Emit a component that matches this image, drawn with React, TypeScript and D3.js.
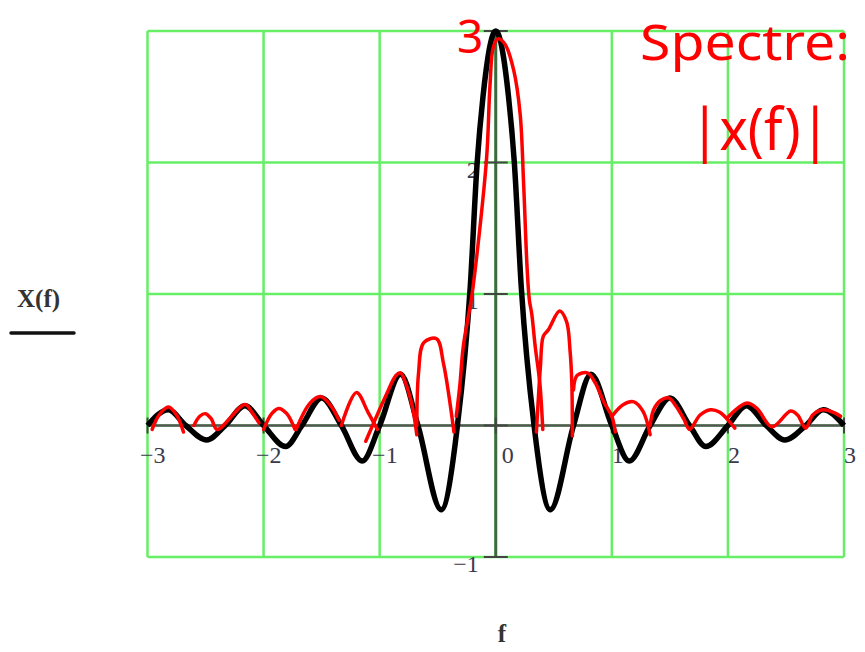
import React from "react";
import * as d3 from "d3";

// black curve X(f) (zeros + extrema + main lobe)
const blackF = [
  -3, -2.82, -2.67, -2.49, -2.33, -2.16, -2.0, -1.81, -1.67, -1.5, -1.33, -1.15, -1.0, -0.82, -0.67, -0.47,
  -0.33, -0.22, -0.16, -0.11, 0, 0.11, 0.16, 0.22, 0.33, 0.47, 0.67, 0.82, 1.0, 1.15, 1.33, 1.5, 1.67,
  1.81, 2.0, 2.16, 2.33, 2.49, 2.67, 2.82, 3,
];
const blackX = [
  0, 0.12, 0, -0.11, 0, 0.15, 0, -0.16, 0, 0.21, 0, -0.27, 0, 0.39, 0, -0.64,
  0, 1.05, 2.0, 2.5, 3.0, 2.5, 2.0, 1.05, 0, -0.64, 0, 0.39, 0, -0.27, 0, 0.21, 0,
  -0.16, 0, 0.15, 0, -0.11, 0, 0.12, 0,
];

// red hand-drawn strokes |X(f)|, [f, value]
const red1 = [[-2.96, -0.03], [-2.9, 0.08], [-2.82, 0.14], [-2.75, 0.08], [-2.69, -0.05]];
const red2 = [[-2.6, 0.0], [-2.55, 0.07], [-2.5, 0.09], [-2.45, 0.05], [-2.4, -0.03], [-2.16, 0.16], [-2.1, 0.1], [-2.04, 0.02]];
const red3 = [[-2.0, -0.03], [-1.93, 0.09], [-1.87, 0.13], [-1.8, 0.09], [-1.73, -0.03]];
const red4 = [[-1.72, -0.03], [-1.6, 0.17], [-1.51, 0.22], [-1.42, 0.15], [-1.35, 0.04]];
const red5 = [[-1.33, 0.0], [-1.2, 0.25], [-1.1, 0.1], [-1.02, -0.03]];
const red6 = [[-1.12, -0.12], [-0.95, 0.22], [-0.86, 0.38], [-0.82, 0.4], [-0.78, 0.33], [-0.72, 0.15], [-0.68, -0.07]];
const red7 = [[-0.68, 0.0], [-0.665, 0.4], [-0.62, 0.63], [-0.51, 0.66], [-0.45, 0.47], [-0.36, -0.05]];
const red8 = [
  [-0.34, 0.07], [-0.31, 0.3], [-0.28, 0.6], [-0.23, 0.86], [-0.205, 0.99], [-0.08, 2.02], [-0.05, 2.58],
  [-0.02, 2.88], [0.02, 2.94], [0.08, 2.9], [0.155, 2.7], [0.21, 2.37], [0.24, 1.84], [0.27, 1.2],
  [0.29, 0.95], [0.31, 0.85], [0.34, 0.6], [0.38, 0.32], [0.405, -0.03],
];
const red9 = [[0.35, -0.05], [0.37, 0.25], [0.385, 0.45], [0.41, 0.68], [0.455, 0.73], [0.55, 0.87], [0.61, 0.79], [0.64, 0.57], [0.655, 0.33], [0.66, -0.08]];
const red10 = [[0.67, 0.27], [0.7, 0.38], [0.79, 0.4], [0.86, 0.32], [0.93, 0.18], [1.0, 0.07], [1.03, -0.05]];
const red11 = [[1.0, 0.07], [1.1, 0.16], [1.19, 0.18], [1.27, 0.105], [1.33, -0.07]];
const red12 = [[1.33, 0.0], [1.36, 0.12], [1.42, 0.19], [1.49, 0.21], [1.55, 0.15], [1.62, 0.05], [1.67, -0.03], [1.76, 0.08], [1.85, 0.12], [1.93, 0.1], [2.06, -0.02]];
const red13 = [[1.99, 0.055], [2.16, 0.17], [2.25, 0.13], [2.38, -0.01], [2.54, 0.11], [2.6, 0.08], [2.67, -0.02], [2.73, 0.08], [2.82, 0.12], [2.91, 0.1], [2.97, 0.07]];
const redStrokes = [red1, red2, red3, red4, red5, red6, red7, red8, red9, red10, red11, red12, red13];

const xTicks = [-3, -2, -1, 0, 1, 2, 3];
const yTicks = [-1, 0, 1, 2, 3];
// the "3" tick label is hidden under the hand-written red 3
const yLabels = [-1, 1, 2];

export default function App() {
  const x = d3.scaleLinear().domain([-3, 3]).range([147.5, 844]);
  const y = d3.scaleLinear().domain([-1, 3]).range([557, 31]);
  const x0 = x(0);
  const y0 = y(0);

  const blackLine = d3
    .line<number>()
    .x((d, i) => x(blackF[i]))
    .y((d) => y(d))
    .curve(d3.curveMonotoneX);

  const redLine = d3
    .line<number[]>()
    .x((d) => x(d[0]))
    .y((d) => y(d[1]))
    .curve(d3.curveCatmullRom.alpha(0.5));

  const fmt = (v: number) => (v < 0 ? "\u2212" + Math.abs(v) : String(v));
  const labelColor = "#3a3a4a";

  return (
    <svg width={865} height={652} style={{ position: "absolute", left: 0, top: 0, background: "#fff" }}>
      {/* grid */}
      <g stroke="#66ee66" strokeWidth={2.5}>
        {xTicks.map((t) => (
          <line key={"gx" + t} x1={x(t)} x2={x(t)} y1={y(3)} y2={y(-1)} />
        ))}
        {yTicks.map((t) => (
          <line key={"gy" + t} x1={x(-3)} x2={x(3)} y1={y(t)} y2={y(t)} />
        ))}
      </g>

      {/* axes */}
      <line x1={x(-3)} x2={x(3)} y1={y0} y2={y0} stroke="#555" strokeWidth={2.5} />
      <line x1={x0} x2={x0} y1={y(3)} y2={y(-1)} stroke="#3f6a3f" strokeWidth={3} />
      <g stroke="#444" strokeWidth={2}>
        {yTicks.map((t) => (
          <line key={"ty" + t} x1={x0 - 12} x2={x0 + 12} y1={y(t)} y2={y(t)} />
        ))}
        {xTicks.map((t) => (
          <line key={"tx" + t} x1={x(t)} x2={x(t)} y1={y0 - 8} y2={y0 + 8} />
        ))}
      </g>

      {/* tick labels */}
      <g fontFamily="'Liberation Serif', serif" fontSize={24} fill={labelColor}>
        {xTicks.map((t) => (
          <text key={"lx" + t} x={x(t) + (t <= 0 ? 18 : 12)} y={463} textAnchor="end">
            {fmt(t)}
          </text>
        ))}
        {yLabels.map((t) => (
          <text key={"ly" + t} x={x0 - 17} y={y(t) + 15} textAnchor="end">
            {fmt(t)}
          </text>
        ))}
      </g>

      {/* black curve */}
      <path d={blackLine(blackX) || ""} fill="none" stroke="#000" strokeWidth={5.5} strokeLinejoin="round" />

      {/* red hand-drawn curve */}
      <g fill="none" stroke="#ff0000" strokeWidth={3.5} strokeLinecap="round" strokeLinejoin="round">
        {redStrokes.map((s, i) => (
          <path key={"r" + i} d={redLine(s) || ""} />
        ))}
      </g>

      {/* axis titles */}
      <text x={17} y={307} fontFamily="'Liberation Serif', serif" fontSize={25} fontWeight="bold" fill="#333">
        X(f)
      </text>
      <line x1={11} x2={74} y1={333} y2={333} stroke="#111" strokeWidth={3.5} strokeLinecap="round" />
      <text x={502} y={642} fontFamily="'Liberation Serif', serif" fontSize={25} fontWeight="bold" fill="#333" textAnchor="middle">
        f
      </text>

      {/* red annotations */}
      <g fill="#ff0000" fontFamily="'Noto Sans', sans-serif">
        <text x={457} y={53} fontSize={46}>
          3
        </text>
        <text x={640} y={60} fontSize={50} textLength={210} lengthAdjust="spacingAndGlyphs">
          Spectre:
        </text>
        <text x={690} y={150} fontSize={58} textLength={140} lengthAdjust="spacingAndGlyphs">
          |x(f)|
        </text>
      </g>
    </svg>
  );
}
